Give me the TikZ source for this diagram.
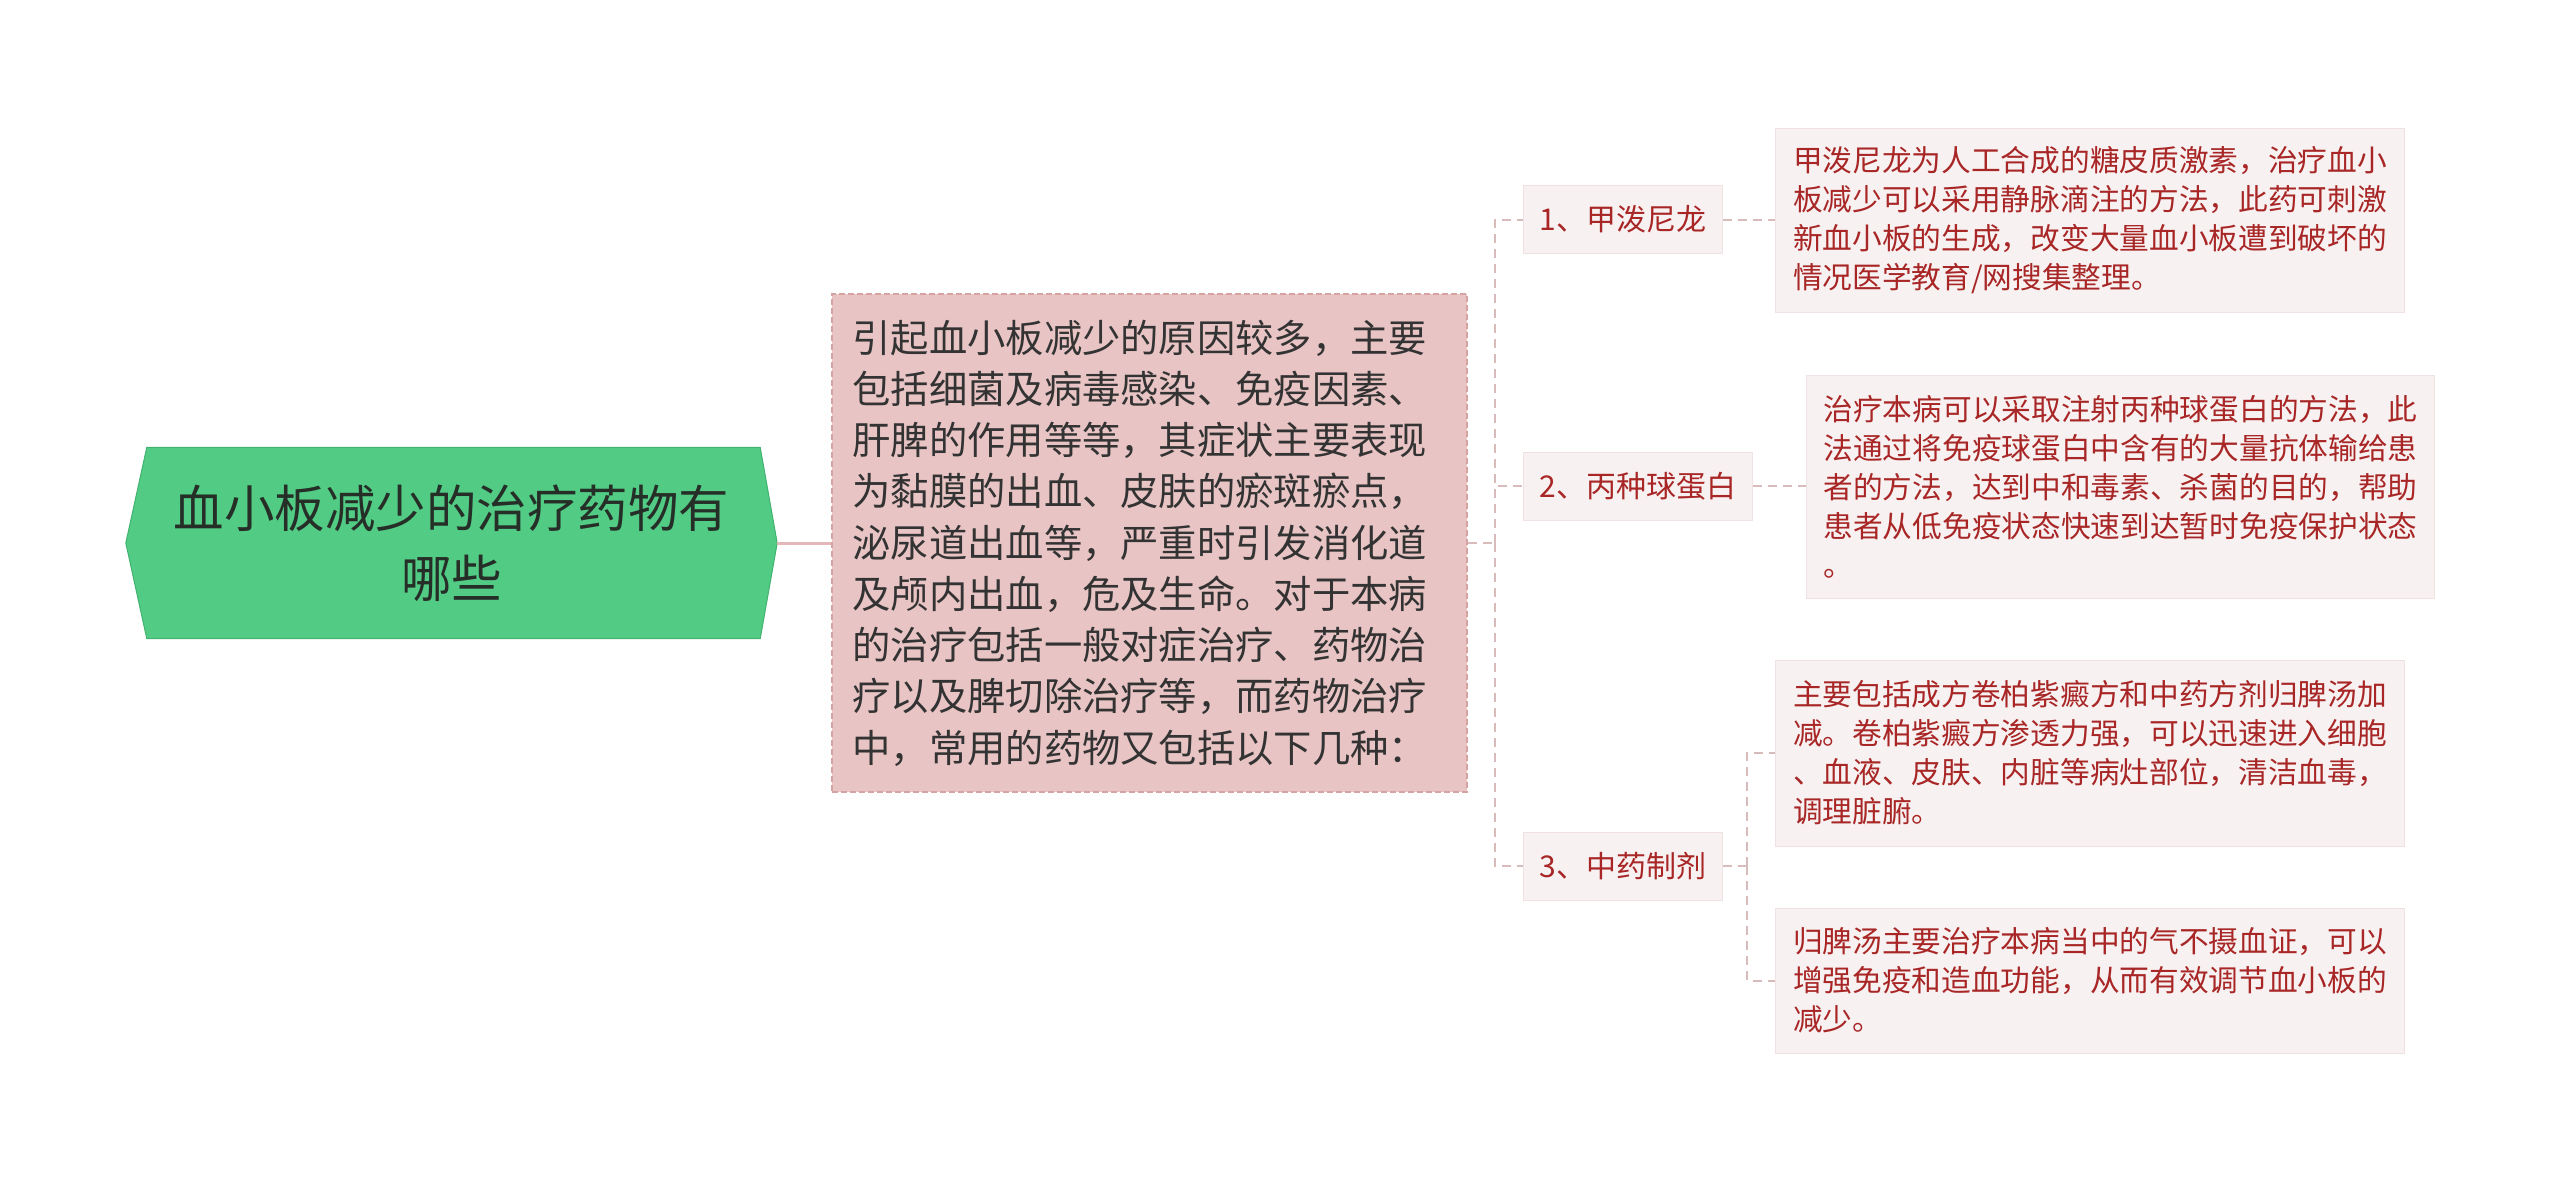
\documentclass[tikz,border=0pt]{standalone}
\usepackage{fontspec}
\setmainfont{Noto Sans CJK SC}
\usepackage{xcolor}
\usetikzlibrary{positioning, backgrounds}

\definecolor{rootgreen}{RGB}{82,204,133}
\definecolor{rootedge}{RGB}{66,178,112}
\definecolor{rootink}{RGB}{38,46,40}
\definecolor{causefill}{RGB}{232,196,196}
\definecolor{causeedge}{RGB}{214,162,162}
\definecolor{causeink}{RGB}{51,51,51}
\definecolor{leaffill}{RGB}{248,241,241}
\definecolor{leafedge}{RGB}{240,226,226}
\definecolor{leafink}{RGB}{168,38,38}
\definecolor{linkpink}{RGB}{216,188,188}
\definecolor{rootlink}{RGB}{228,184,184}

\begin{document}
\begin{tikzpicture}[x=1pt, y=-1pt,
  root node/.style={inner sep=0pt, minimum width=651pt, minimum height=191pt,
    align=center, text=rootink, font=\fontsize{50.5pt}{70pt}\selectfont},
  cause node/.style={fill=causefill, draw=causeedge, line width=1.5pt,
    dash pattern=on 6pt off 3pt, inner xsep=20.5pt, minimum height=498pt,
    text width=594pt, align=left, text=causeink,
    font=\fontsize{38.3pt}{51.25pt}\selectfont},
  item node/.style={fill=leaffill, draw=leafedge, line width=1pt, inner xsep=16pt,
    minimum height=68pt, text=leafink, font=\fontsize{30pt}{38pt}\selectfont},
  leaf node/.style={fill=leaffill, draw=leafedge, line width=1pt, minimum width=629pt,
    inner xsep=17pt, align=left, text=leafink, font=\fontsize{29.7pt}{39pt}\selectfont},
  link/.style={draw=linkpink, line width=2pt, dash pattern=on 9pt off 6pt}]

  \useasboundingbox (0,0) rectangle (2560,1181);

  % topic
  \node[root node] (root) at (451.5,543) {血小板减少的治疗药物有\\哪些};
  \begin{scope}[on background layer]
    \filldraw[fill=rootgreen, draw=rootedge, line width=1pt]
      ([xshift=21pt]root.north west) -- ([xshift=-17pt]root.north east) -- (root.east)
      -- ([xshift=-17pt]root.south east) -- ([xshift=21pt]root.south west) -- (root.west) -- cycle;
  \end{scope}

  \node[cause node] (cause) at (1149.5,543) {引起血小板减少的原因较多，主要\\
    包括细菌及病毒感染、免疫因素、\\
    肝脾的作用等等，其症状主要表现\\
    为黏膜的出血、皮肤的瘀斑瘀点，\\
    泌尿道出血等，严重时引发消化道\\
    及颅内出血，危及生命。对于本病\\
    的治疗包括一般对症治疗、药物治\\
    疗以及脾切除治疗等，而药物治疗\\
    中，常用的药物又包括以下几种：};

  % drugs
  \node[item node, anchor=west] (drug1) at (1523,219.5) {1、甲泼尼龙};
  \node[item node, anchor=west] (drug2) at (1523,486) {2、丙种球蛋白};
  \node[item node, anchor=west] (drug3) at (1523,866) {3、中药制剂};

  % details
  \node[leaf node, anchor=west, minimum height=184pt] (info1) at (1775,220) {甲泼尼龙为人工合成的糖皮质激素，治疗血小\\
    板减少可以采用静脉滴注的方法，此药可刺激\\
    新血小板的生成，改变大量血小板遭到破坏的\\
    情况医学教育/网搜集整理。};
  \node[leaf node, anchor=west, minimum width=626pt, minimum height=223pt] (info2) at (1806,486.5) {治疗本病可以采取注射丙种球蛋白的方法，此\\
    法通过将免疫球蛋白中含有的大量抗体输给患\\
    者的方法，达到中和毒素、杀菌的目的，帮助\\
    患者从低免疫状态快速到达暂时免疫保护状态\\
    。};
  \node[leaf node, anchor=west, minimum height=186pt] (info3a) at (1775,753) {主要包括成方卷柏紫癜方和中药方剂归脾汤加\\
    减。卷柏紫癜方渗透力强，可以迅速进入细胞\\
    、血液、皮肤、内脏等病灶部位，清洁血毒，\\
    调理脏腑。};
  \node[leaf node, anchor=west, minimum height=145pt] (info3b) at (1775,980.5) {归脾汤主要治疗本病当中的气不摄血证，可以\\
    增强免疫和造血功能，从而有效调节血小板的\\
    减少。};

  % connectors
  \coordinate (fork) at (1495,543);
  \coordinate (fork3) at (1747,866);
  \draw[rootlink, line width=3pt] (root.east) -- (cause.west);
  \draw[link] (cause.east) -- (fork);
  \draw[link] (fork) |- (drug1.west);
  \draw[link] (fork) |- (drug2.west);
  \draw[link] (fork) |- (drug3.west);
  \draw[link] (drug1.east) -- (drug1.east -| info1.west);
  \draw[link] (drug2.east) -- (drug2.east -| info2.west);
  \draw[link] (drug3.east) -- (fork3);
  \draw[link] (fork3) |- (info3a.west);
  \draw[link] (fork3) |- (info3b.west);
\end{tikzpicture}
\end{document}
